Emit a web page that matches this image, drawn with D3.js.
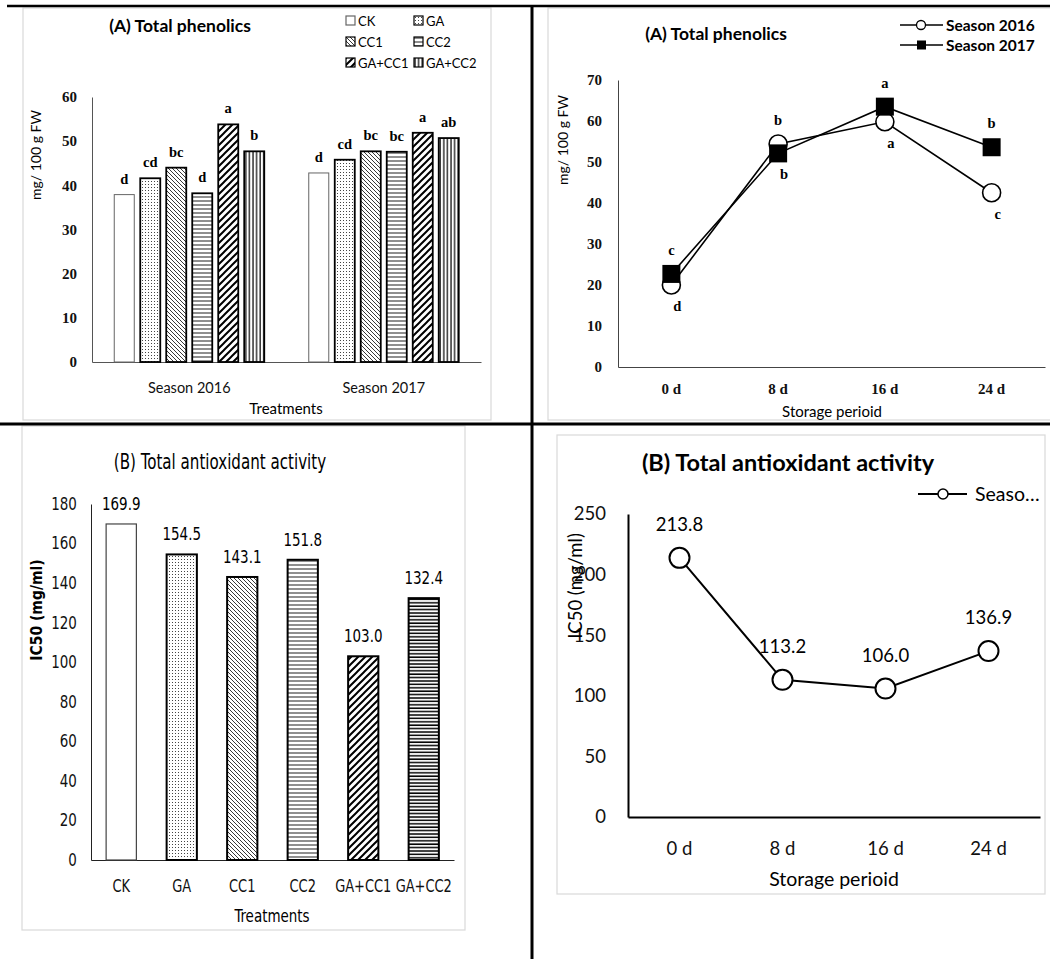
<!DOCTYPE html>
<html>
<head>
<meta charset="utf-8">
<script src="https://cdn.jsdelivr.net/npm/d3@7"></script>
<style>
  body { margin: 0; background: #fff; }
  svg { display: block; }
</style>
</head>
<body>
<svg width="1050" height="959"></svg>
<script>
// ---- data ----
var treatments = ["CK", "GA", "CC1", "CC2", "GA+CC1", "GA+CC2"];
var seasons = ["Season 2016", "Season 2017"];
var phen2016 = [37.9, 41.6, 44.0, 38.2, 53.8, 47.7];
var phen2017 = [42.8, 45.8, 47.7, 47.6, 51.9, 50.7];
var letters2016 = ["d", "cd", "bc", "d", "a", "b"];
var letters2017 = ["d", "cd", "bc", "bc", "a", "ab"];

var days = ["0 d", "8 d", "16 d", "24 d"];
var dayPhen2016 = [20.0, 54.4, 59.8, 42.5];
var dayPhen2017 = [22.7, 52.1, 63.5, 53.6];
var dayLetters2016 = ["d", "b", "a", "c"];
var dayLetters2017 = ["c", "b", "a", "b"];

var ic50Treat = [169.9, 154.5, 143.1, 151.8, 103.0, 132.4];
var ic50Days = [213.8, 113.2, 106.0, 136.9];

// fonts
var serif = "'Liberation Serif', 'DejaVu Serif', serif";
var sans = "Lato, 'Open Sans', sans-serif";
var narrow = "'Liberation Sans Narrow', 'DejaVu Sans Condensed', sans-serif";

var svg = d3.select('svg');
var defs = svg.append('defs');

//helper to make a hatch pattern
function addPattern(id, w, h, draw){
    var p = defs.append('pattern')
        .attr('id', id)
        .attr('patternUnits', 'userSpaceOnUse')
        .attr('width', w).attr('height', h);
    p.append('rect').attr('width', w).attr('height', h).attr('fill', '#fff');
    draw(p);
}
addPattern('dots', 3, 3, function(p){
    p.append('rect').attr('x', 1).attr('y', 1).attr('width', 1).attr('height', 1).attr('fill', '#444');
});
addPattern('diagThin', 4, 4, function(p){
    p.append('path').attr('d', 'M-1,-1L5,5M3,-1L5,1M-1,3L1,5').attr('stroke', '#222').attr('stroke-width', 0.9);
});
addPattern('hLines', 4, 4, function(p){
    p.append('line').attr('x1', 0).attr('x2', 4).attr('y1', 1).attr('y2', 1).attr('stroke', '#333').attr('stroke-width', 1.1);
});
addPattern('diagThick', 7, 7, function(p){
    p.append('path').attr('d', 'M0,7L7,0M-1,1L1,-1M6,8L8,6').attr('stroke', '#000').attr('stroke-width', 2);
});
addPattern('vLines', 3.6, 4, function(p){
    p.append('line').attr('y1', 0).attr('y2', 4).attr('x1', 1).attr('x2', 1).attr('stroke', '#000').attr('stroke-width', 1.2);
});
addPattern('hLinesThick', 4, 3.4, function(p){
    p.append('line').attr('x1', 0).attr('x2', 4).attr('y1', 1).attr('y2', 1).attr('stroke', '#000').attr('stroke-width', 1.5);
});

var fillsTop = ['#fff', 'url(#dots)', 'url(#diagThin)', 'url(#hLines)', 'url(#diagThick)', 'url(#vLines)'];
var fillsBottom = ['#fff', 'url(#dots)', 'url(#diagThin)', 'url(#hLines)', 'url(#diagThick)', 'url(#hLinesThick)'];

//gray chart frames
[[23, 8, 468, 412], [548, 8, 510, 412], [22, 426, 443, 504], [557, 435, 488, 459]].forEach(function(f){
    svg.append('rect').attr('x', f[0]).attr('y', f[1]).attr('width', f[2]).attr('height', f[3])
        .attr('fill', 'none').attr('stroke', '#d9d9d9').attr('stroke-width', 1.2);
});

//style axis text
function styleAxis(sel, font, size, weight, color){
    sel.select('.domain').attr('stroke', color || '#000');
    sel.selectAll('text').style('font-family', font).style('font-size', size + 'px')
        .style('font-weight', weight).attr('fill', '#111');
}

//squeeze text horizontally (the bottom-left chart uses a condensed face)
function squeeze(sel, k){
    sel.each(function(){
        var t = d3.select(this);
        var x = +t.attr('x') || 0, y = +t.attr('y') || 0;
        t.attr('x', 0).attr('y', 0)
         .attr('transform', 'translate(' + x + ',' + y + ')scale(' + k + ',1)');
    });
}

// ================= top-left: bar chart by season =================
var g1 = svg.append('g');
var x0 = d3.scaleBand().domain(seasons).range([92, 481]);
var x1 = d3.scaleBand().domain(treatments).range([22.25, 172.25]).paddingInner(0.23);
var y1 = d3.scaleLinear().domain([0, 60]).range([362, 97]);

g1.append('g').attr('transform', 'translate(92,0)')
    .call(d3.axisLeft(y1).ticks(6).tickSize(0).tickPadding(15))
    .call(styleAxis, serif, 15, 'bold', '#555');
g1.append('g').attr('transform', 'translate(0,362)')
    .call(d3.axisBottom(x0).tickSize(0).tickSizeOuter(0).tickPadding(21))
    .call(styleAxis, sans, 14.5, 'normal', '#555');

var barData = [];
seasons.forEach(function(s, i){
    treatments.forEach(function(t, j){
        barData.push({season: s, t: t, idx: j,
            v: i == 0 ? phen2016[j] : phen2017[j],
            letter: i == 0 ? letters2016[j] : letters2017[j]});
    });
});

g1.selectAll('.bar').data(barData).enter().append('rect')
    .attr('x', function(d){ return x0(d.season) + x1(d.t); })
    .attr('y', function(d){ return y1(d.v); })
    .attr('width', x1.bandwidth())
    .attr('height', function(d){ return y1(0) - y1(d.v); })
    .attr('fill', function(d){ return fillsTop[d.idx]; })
    .attr('stroke', function(d){ return d.idx == 0 ? '#666' : '#000'; })
    .attr('stroke-width', function(d){ return d.idx == 0 ? 1 : 1.8; });

g1.selectAll('.lett').data(barData).enter().append('text')
    .attr('x', function(d){ return x0(d.season) + x1(d.t) + x1.bandwidth() / 2; })
    .attr('y', function(d){ return y1(d.v) - 11; })
    .attr('text-anchor', 'middle')
    .style('font-family', serif).style('font-size', '14.5px').style('font-weight', 'bold')
    .text(function(d){ return d.letter; });

g1.append('text').text('(A) Total phenolics')
    .attr('x', 180).attr('y', 32).attr('text-anchor', 'middle')
    .style('font-family', sans).style('font-size', '17.5px').style('font-weight', 'bold');
g1.append('text').text('Treatments')
    .attr('x', 286).attr('y', 414).attr('text-anchor', 'middle')
    .style('font-family', sans).style('font-size', '15px');
g1.append('text').text('mg/ 100 g FW')
    .attr('transform', 'translate(41,155)rotate(-90)').attr('text-anchor', 'middle')
    .style('font-family', sans).style('font-size', '14px');

//legend 3 rows x 2 cols
var leg1 = g1.selectAll('.leg').data(treatments).enter().append('g')
    .attr('transform', function(d, i){ return 'translate(' + (i % 2 == 0 ? 346 : 414) + ',' + (16 + Math.floor(i / 2) * 21) + ')'; });
leg1.append('rect').attr('width', 9).attr('height', 9)
    .attr('fill', function(d, i){ return fillsTop[i]; })
    .attr('stroke', function(d, i){ return i == 0 ? '#666' : '#000'; })
    .attr('stroke-width', 1.2);
leg1.append('text').text(function(d){ return d; })
    .attr('x', 12).attr('y', 10)
    .style('font-family', sans).style('font-size', '13px');

// ================= top-right: line chart by storage day =================
var g2 = svg.append('g');
var xR = d3.scaleBand().domain(days).range([618, 1045]);
var yR = d3.scaleLinear().domain([0, 70]).range([367, 80]);
var cx = function(d){ return xR(d.day) + xR.bandwidth() / 2; };

g2.append('g').attr('transform', 'translate(618,0)')
    .call(d3.axisLeft(yR).ticks(7).tickSize(0).tickPadding(16))
    .call(styleAxis, serif, 15, 'bold', '#444');
g2.append('g').attr('transform', 'translate(0,367)')
    .call(d3.axisBottom(xR).tickSize(0).tickSizeOuter(0).tickPadding(16))
    .call(styleAxis, serif, 15, 'bold', '#444');

var s2016 = days.map(function(d, i){ return {day: d, v: dayPhen2016[i], letter: dayLetters2016[i], above: dayPhen2016[i] > dayPhen2017[i]}; });
var s2017 = days.map(function(d, i){ return {day: d, v: dayPhen2017[i], letter: dayLetters2017[i], above: dayPhen2017[i] > dayPhen2016[i]}; });

var lineR = d3.line().x(cx).y(function(d){ return yR(d.v); });
g2.append('path').datum(s2016).attr('d', lineR).attr('fill', 'none').attr('stroke', '#000').attr('stroke-width', 1.6);
g2.append('path').datum(s2017).attr('d', lineR).attr('fill', 'none').attr('stroke', '#000').attr('stroke-width', 1.6);

g2.selectAll('.c16').data(s2016).enter().append('circle')
    .attr('cx', cx).attr('cy', function(d){ return yR(d.v); }).attr('r', 9)
    .attr('fill', '#fff').attr('stroke', '#000').attr('stroke-width', 1.6);
g2.selectAll('.s17').data(s2017).enter().append('rect')
    .attr('x', function(d){ return cx(d) - 9; }).attr('y', function(d){ return yR(d.v) - 9; })
    .attr('width', 18).attr('height', 18).attr('fill', '#000');

g2.selectAll('.lt').data(s2016.concat(s2017)).enter().append('text')
    .attr('x', function(d){ return cx(d) + (d.above ? 0 : 6); })
    .attr('y', function(d){ return yR(d.v) + (d.above ? -19 : 26); })
    .attr('text-anchor', 'middle')
    .style('font-family', serif).style('font-size', '14.5px').style('font-weight', 'bold')
    .text(function(d){ return d.letter; });

g2.append('text').text('(A) Total phenolics')
    .attr('x', 716).attr('y', 40).attr('text-anchor', 'middle')
    .style('font-family', sans).style('font-size', '17.5px').style('font-weight', 'bold');
g2.append('text').text('Storage perioid')
    .attr('x', 832).attr('y', 417).attr('text-anchor', 'middle')
    .style('font-family', sans).style('font-size', '15px');
g2.append('text').text('mg/ 100 g FW')
    .attr('transform', 'translate(568,140)rotate(-90)').attr('text-anchor', 'middle')
    .style('font-family', sans).style('font-size', '14px');

//legend
var leg2 = g2.selectAll('.leg2').data(['Season 2016', 'Season 2017']).enter().append('g')
    .attr('transform', function(d, i){ return 'translate(900,' + (25 + i * 20) + ')'; });
leg2.append('line').attr('x1', 0).attr('x2', 43).attr('stroke', '#000').attr('stroke-width', 1.6);
leg2.filter(function(d, i){ return i == 0; }).append('circle')
    .attr('cx', 21).attr('r', 4.5).attr('fill', '#fff').attr('stroke', '#000').attr('stroke-width', 1.3);
leg2.filter(function(d, i){ return i == 1; }).append('rect')
    .attr('x', 17).attr('y', -4.5).attr('width', 9).attr('height', 9).attr('fill', '#000');
leg2.append('text').text(function(d){ return d; })
    .attr('x', 46).attr('y', 5.5)
    .style('font-family', sans).style('font-size', '15.5px').style('font-weight', 'bold');

// ================= bottom-left: IC50 by treatment =================
var g3 = svg.append('g');
var xB = d3.scaleBand().domain(treatments).range([91, 454]).paddingInner(0.5).paddingOuter(0.25);
var yB = d3.scaleLinear().domain([0, 180]).range([860, 504]);

g3.append('g').attr('transform', 'translate(91,0)')
    .call(d3.axisLeft(yB).ticks(9).tickSize(0).tickPadding(16))
    .call(styleAxis, narrow, 17, 'normal', '#222')
    .selectAll('text').attr('transform', 'scale(0.88,1)');
g3.append('g').attr('transform', 'translate(0,860)')
    .call(d3.axisBottom(xB).tickSize(0).tickSizeOuter(0).tickPadding(20))
    .call(styleAxis, narrow, 17, 'normal', '#222')
    .selectAll('text').attr('transform', 'scale(0.85,1)');

g3.selectAll('.bar').data(ic50Treat).enter().append('rect')
    .attr('x', function(d, i){ return xB(treatments[i]); })
    .attr('y', function(d){ return yB(d); })
    .attr('width', xB.bandwidth())
    .attr('height', function(d){ return yB(0) - yB(d); })
    .attr('fill', function(d, i){ return fillsBottom[i]; })
    .attr('stroke', function(d, i){ return i == 0 ? '#444' : '#000'; })
    .attr('stroke-width', function(d, i){ return i == 0 ? 1.2 : 2; });

g3.selectAll('.val').data(ic50Treat).enter().append('text')
    .attr('x', function(d, i){ return xB(treatments[i]) + xB.bandwidth() / 2; })
    .attr('y', function(d){ return yB(d) - 14; })
    .attr('text-anchor', 'middle')
    .style('font-family', narrow).style('font-size', '17px')
    .text(function(d){ return d.toFixed(1); })
    .call(squeeze, 0.88);

g3.append('text').text('(B) Total antioxidant activity')
    .attr('x', 220).attr('y', 469).attr('text-anchor', 'middle')
    .style('font-family', narrow).style('font-size', '21px')
    .call(squeeze, 0.8);
g3.append('text').text('Treatments')
    .attr('x', 272).attr('y', 922).attr('text-anchor', 'middle')
    .style('font-family', narrow).style('font-size', '17px')
    .call(squeeze, 0.88);
g3.append('text').text('IC50 (mg/ml)')
    .attr('transform', 'translate(42,610)rotate(-90)').attr('text-anchor', 'middle')
    .style('font-family', narrow).style('font-size', '15.5px').style('font-weight', 'bold');

// ================= bottom-right: IC50 by storage day =================
var g4 = svg.append('g');
var xD = d3.scaleBand().domain(days).range([628, 1040]);
var yD = d3.scaleLinear().domain([0, 250]).range([817, 514]);
var dx = function(d, i){ return xD(days[i]) + xD.bandwidth() / 2; };

g4.append('g').attr('transform', 'translate(628,0)')
    .call(d3.axisLeft(yD).ticks(5).tickSize(0).tickPadding(22))
    .call(styleAxis, sans, 18.5, 'normal', '#000');
g4.append('g').attr('transform', 'translate(0,817)')
    .call(d3.axisBottom(xD).tickSize(0).tickSizeOuter(0).tickPadding(25))
    .call(styleAxis, sans, 18.5, 'normal', '#000');
g4.selectAll('.domain').attr('stroke-width', 2);

g4.append('path').datum(ic50Days)
    .attr('d', d3.line().x(dx).y(function(d){ return yD(d); }))
    .attr('fill', 'none').attr('stroke', '#000').attr('stroke-width', 2);
g4.selectAll('.pt').data(ic50Days).enter().append('circle')
    .attr('cx', dx).attr('cy', function(d){ return yD(d); }).attr('r', 10)
    .attr('fill', '#fff').attr('stroke', '#000').attr('stroke-width', 2);
g4.selectAll('.val').data(ic50Days).enter().append('text')
    .attr('x', dx).attr('y', function(d){ return yD(d) - 27; })
    .attr('text-anchor', 'middle')
    .style('font-family', sans).style('font-size', '18.5px')
    .text(function(d){ return d.toFixed(1); });

g4.append('text').text('(B) Total antioxidant activity')
    .attr('x', 788).attr('y', 471).attr('text-anchor', 'middle')
    .style('font-family', sans).style('font-size', '23.5px').style('font-weight', 'bold');
g4.append('text').text('Storage perioid')
    .attr('x', 834).attr('y', 886).attr('text-anchor', 'middle')
    .style('font-family', sans).style('font-size', '19.5px');
g4.append('text').text('IC50 (mg/ml)')
    .attr('transform', 'translate(582,586)rotate(-90)').attr('text-anchor', 'middle')
    .style('font-family', sans).style('font-size', '18.5px');

var leg4 = g4.append('g').attr('transform', 'translate(918,494)');
leg4.append('line').attr('x1', 0).attr('x2', 49).attr('stroke', '#000').attr('stroke-width', 2);
leg4.append('circle').attr('cx', 25).attr('r', 5).attr('fill', '#fff').attr('stroke', '#000').attr('stroke-width', 1.5);
leg4.append('text').text('Seaso…').attr('x', 57).attr('y', 7)
    .style('font-family', sans).style('font-size', '19.5px');

// ---- black panel dividers ----
svg.append('line').attr('x1', 7).attr('x2', 1050).attr('y1', 6).attr('y2', 6).attr('stroke', '#000').attr('stroke-width', 2.5);
svg.append('line').attr('x1', 0).attr('x2', 1050).attr('y1', 424).attr('y2', 424).attr('stroke', '#000').attr('stroke-width', 3);
svg.append('line').attr('x1', 532).attr('x2', 532).attr('y1', 5).attr('y2', 959).attr('stroke', '#000').attr('stroke-width', 3);
</script>
</body>
</html>
